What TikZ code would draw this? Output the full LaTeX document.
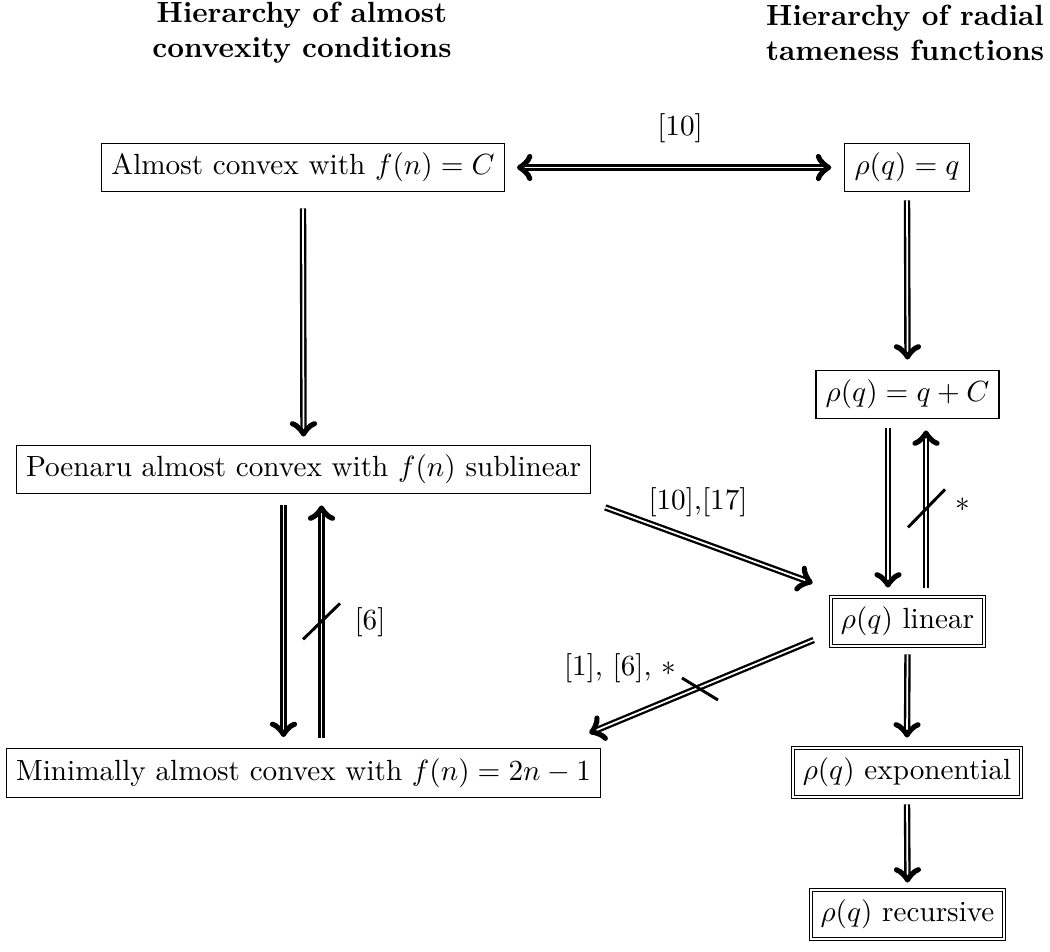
\documentclass[tikz,border=0pt]{standalone}
\usetikzlibrary{calc}
\begin{document}
\begin{tikzpicture}[x=0.3425pt, y=-0.3425pt,
  box/.style={draw, line width=0.4pt, inner sep=3.33pt},
  dbox/.style={draw, double, line width=0.4pt, double distance=0.6pt, inner sep=3.33pt},
  imp/.style={->, double, thick},
  slash/.style={line width=1pt},
  ttl/.style={align=center, font=\bfseries}]
\useasboundingbox (0,0) rectangle (1050,951);

\node[ttl] (t1) at (302,33) {Hierarchy of almost\\convexity conditions};
\node[ttl] (t2) at (905,33) {Hierarchy of radial\\tameness functions};

\node[box]  (A) at (303,167.5) {Almost convex with $f(n)=C$};
\node[box]  (B) at (907,167.5) {$\rho(q)=q$};
\node[box]  (C) at (907.5,394.5) {$\rho(q)=q+C$};
\node[box]  (D) at (303.5,469.5) {Poenaru almost convex with $f(n)$ sublinear};
\node[dbox] (E) at (907.5,621.5) {$\rho(q)$ linear};
\node[box]  (F) at (303.5,773) {Minimally almost convex with $f(n)=2n-1$};
\node[dbox] (G) at (907,772.5) {$\rho(q)$ exponential};
\node[dbox] (H) at (907.5,914.5) {$\rho(q)$ recursive};

\draw[imp, <->] ($(A.east)+(12,0)$) -- ($(B.west)+(-13,0)$);
\draw[imp] ($(B.south)+(0,8)$) -- ($(C.north)+(0,-10)$);
\draw[imp] ($(A.south)+(0,16)$) -- ($(D.north)+(0,-8)$);
\draw[imp] ($(D.south)+(-20,11)$) -- ($(F.north)+(-20,-11)$);
\draw[imp] ($(F.north)+(18,-10)$) -- ($(D.south)+(18,11)$);
\draw[imp] ($(D.south east)+(14,13)$) -- ($(E.west)+(-18,-38.5)$);
\draw[imp] ($(E.west)+(-17,18.5)$) -- ($(F.north east)+(-12,-15)$);
\draw[imp] ($(C.south)+(-19.5,9)$) -- ($(E.north)+(-19.5,-9)$);
\draw[imp] ($(E.north)+(18.5,-9)$) -- ($(C.south)+(18.5,11)$);
\draw[imp] ($(E.south)+(0,8)$) -- ($(G.north)+(0,-10)$);
\draw[imp] ($(G.south)+(0,7)$) -- ($(H.north)+(0,-7)$);

\coordinate (s1) at ($(D.south)+(18,127)$);
\coordinate (s2) at ($(C.south)+(19,89)$);
\coordinate (s3) at (700,689);
\draw[slash] ($(s1)+(-18.5,18)$) -- ($(s1)+(18.5,-18)$);
\draw[slash] ($(s2)+(-18.5,19)$) -- ($(s2)+(18.5,-19)$);
\draw[slash] ($(s3)+(-18,-11)$) -- ($(s3)+(18,11)$);

\node (l1) at (680,128) {[10]};
\node (l2) at (698,502) {[10],[17]};
\node (l3) at (370,622) {[6]};
\node (l4) at (963,505) {$*$};
\node (l5) at (620,668) {[1], [6], $*$};
\end{tikzpicture}
\end{document}
